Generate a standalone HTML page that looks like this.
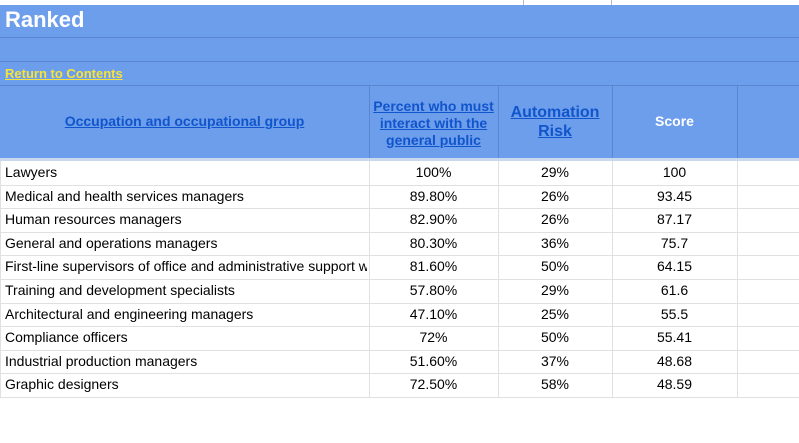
<!DOCTYPE html>
<html><head><meta charset="utf-8"><style>
body{margin:0;width:799px;height:443px;background:#fff;position:relative;overflow:hidden;font-family:"Liberation Sans",Arial,sans-serif;}
.a{position:absolute;box-sizing:border-box;}
.blue{background:#6d9eeb;}
.hl{position:absolute;height:1px;background:#5b86cf;}
.vl{position:absolute;width:1px;background:#5b86cf;}
.gl{position:absolute;height:1px;background:#e0e0e0;}
.gv{position:absolute;width:1px;background:#e0e0e0;}
.cell{position:absolute;font-size:14px;color:#000;line-height:23.6px;white-space:nowrap;overflow:hidden;}
.hd{position:absolute;display:flex;align-items:center;justify-content:center;text-align:center;font-weight:bold;font-size:14px;color:#1155cc;text-decoration:underline;line-height:17px;}
</style></head><body>
<div class="gv" style="left:523px;top:0;height:5px;background:#bbb"></div>
<div class="gv" style="left:611px;top:0;height:5px;background:#bbb"></div>
<div class="a blue" style="left:0;top:5px;width:799px;height:153px;"></div>
<div class="hl" style="left:0;top:37px;width:799px"></div>
<div class="hl" style="left:0;top:61px;width:799px"></div>
<div class="hl" style="left:0;top:85px;width:799px"></div>
<div class="a" style="left:0;top:158px;width:799px;height:3px;background:#c9d7ef"></div>
<div class="vl" style="left:369px;top:85px;height:73px"></div>
<div class="vl" style="left:498px;top:85px;height:73px"></div>
<div class="vl" style="left:612px;top:85px;height:73px"></div>
<div class="vl" style="left:737px;top:85px;height:73px"></div>
<div class="a" style="left:5px;top:7px;font-size:22px;font-weight:bold;color:#fff;">Ranked</div>
<a class="a" style="left:5px;top:66px;font-size:13px;font-weight:bold;color:#f5e23a;text-decoration:underline;">Return to Contents</a>
<div class="hd" style="left:0;top:85px;width:369px;height:73px;">Occupation and occupational group</div>
<div class="hd" style="left:369px;top:88px;width:129px;height:70px;">Percent who must interact with the general public</div>
<div class="hd" style="left:498px;top:85px;width:114px;height:73px;font-size:16px;line-height:19px;">Automation<br>Risk</div>
<div class="hd" style="left:612px;top:85px;width:125px;height:73px;color:#fff;text-decoration:none;">Score</div>
<div id="rows"></div>
<script>
const names=["Lawyers","Medical and health services managers","Human resources managers","General and operations managers","First-line supervisors of office and administrative support workers","Training and development specialists","Architectural and engineering managers","Compliance officers","Industrial production managers","Graphic designers"];
const pct=["100%","89.80%","82.90%","80.30%","81.60%","57.80%","47.10%","72%","51.60%","72.50%"];
const risk=["29%","26%","26%","36%","50%","29%","25%","50%","37%","58%"];
const score=["100","93.45","87.17","75.7","64.15","61.6","55.5","55.41","48.68","48.59"];
const top0=161,rh=23.6;
const body=document.body;
function add(cls,style,text){const d=document.createElement('div');d.className=cls;d.style.cssText=style;if(text!==undefined)d.textContent=text;body.appendChild(d);return d;}
for(let i=0;i<names.length;i++){
  const y=top0+i*rh;
  const r=add('a','left:0;top:'+y+'px;width:799px;height:'+rh+'px;');
  
  
  const c1=add('cell','left:5px;top:'+y+'px;width:362px;',names[i]);
  
  
  const c2=add('cell','left:369px;top:'+y+'px;width:129px;text-align:center;',pct[i]);
  
  
  const c3=add('cell','left:498px;top:'+y+'px;width:114px;text-align:center;',risk[i]);
  
  
  const c4=add('cell','left:612px;top:'+y+'px;width:125px;text-align:center;',score[i]);
  
  
  add('gl','left:0;top:'+Math.round(y+rh)+'px;width:799px;');
}
const h=names.length*rh;
[0,369,498,612,737].forEach(x=>add('gv','left:'+x+'px;top:'+top0+'px;height:'+h+'px;'));
</script>
</body></html>
